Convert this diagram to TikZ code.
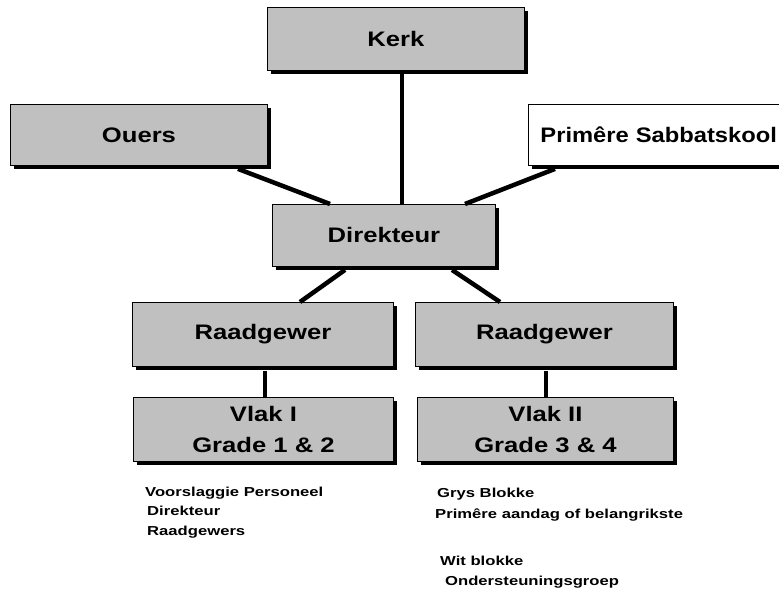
\documentclass[tikz,border=0pt]{standalone}
\usepackage{fontspec}
\setmainfont{Liberation Sans}
\newfontfamily\boxfont{Liberation Sans}[FakeStretch=1.22]
\newfontfamily\boxfontn{Liberation Sans}[FakeStretch=1.13]
\newfontfamily\notefont{Liberation Sans}[FakeStretch=1.28]
\usetikzlibrary{shadows,calc}
\definecolor{boxgray}{RGB}{192,192,192}
\begin{document}
\begin{tikzpicture}[x=1pt,y=-1pt,
  orgbox/.style={rectangle, draw=black, line width=0.9pt, fill=boxgray, inner sep=0pt,
    anchor=north west, align=center,
    drop shadow={shadow xshift=3.5pt, shadow yshift=-3.5pt, fill=black, opacity=1},
    font=\boxfont\bfseries\fontsize{21}{31}\selectfont},
  link/.style={line width=4.5pt, black},
  note/.style={anchor=base west, inner sep=0pt, font=\notefont\bfseries\fontsize{13}{22}\selectfont}]
\clip (0,0) rectangle (779,593);
\useasboundingbox (0,0) rectangle (779,593);

\node[orgbox, minimum width=257pt, minimum height=63pt] (kerk) at (267,7) {Kerk};
\node[orgbox, minimum width=257pt, minimum height=61pt] (ouers) at (10,104) {Ouers};
\node[orgbox, fill=white, minimum height=61pt, inner xsep=12pt, text width=250pt, align=left,
  font=\boxfontn\bfseries\fontsize{21}{31}\selectfont] (prim) at (528,104) {Primêre Sabbatskool};
\node[orgbox, minimum width=223pt, minimum height=62pt] (dir) at (272,204) {Direkteur};
\node[orgbox, minimum width=261pt, minimum height=64pt] (raadL) at (132,302) {Raadgewer};
\node[orgbox, minimum width=258pt, minimum height=64pt] (raadR) at (415,302) {Raadgewer};
\node[orgbox, minimum width=260pt, minimum height=64pt] (vlakI) at (133,397) {Vlak I\\Grade 1 \& 2};
\node[orgbox, minimum width=256pt, minimum height=64pt] (vlakII) at (417,397) {Vlak II\\Grade 3 \& 4};

\draw[link] ($(kerk.south west)+(135,3)$) -- ($(dir.north west)+(130,0)$);
\draw[link] ($(ouers.south west)+(228,3)$) -- ($(dir.north west)+(58,0)$);
\draw[link] ($(prim.south west)+(27,3)$) -- ($(dir.north west)+(193,0)$);
\draw[link] ($(dir.south west)+(73,3)$) -- ($(raadL.north west)+(168,0)$);
\draw[link] ($(dir.south west)+(180,3)$) -- ($(raadR.north west)+(85,0)$);
\draw[link] ($(raadL.south west)+(133,4)$) -- ($(vlakI.north west)+(132,0)$);
\draw[link] ($(raadR.south west)+(131,4)$) -- ($(vlakII.north west)+(129,0)$);

\node[note] (n1) at (145,496) {Voorslaggie Personeel};
\node[note] (n2) at (147,515) {Direkteur};
\node[note] (n3) at (147,535) {Raadgewers};
\node[note] (n4) at (437,497) {Grys Blokke};
\node[note] (n5) at (435,518) {Primêre aandag of belangrikste};
\node[note] (n6) at (440,565) {Wit blokke};
\node[note] (n7) at (445,585) {Ondersteuningsgroep};
\end{tikzpicture}
\end{document}
